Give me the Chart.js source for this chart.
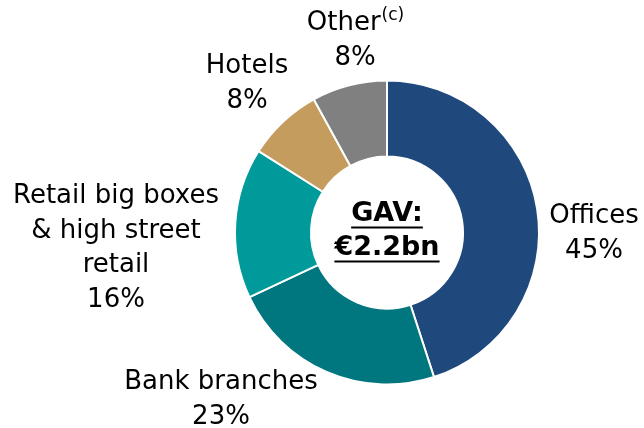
<!DOCTYPE html>
<html>
<head>
<meta charset="utf-8">
<script src="https://cdn.jsdelivr.net/npm/chart.js@4"></script>
<style>
html,body{margin:0;padding:0;background:#fff;}
#wrap{width:644px;height:428px;position:relative;}
</style>
</head>
<body>
<div id="wrap"><canvas id="c" width="644" height="428"></canvas></div>
<script>
// ---- data ----
const categories = ["Offices", "Bank branches", "Retail big boxes & high street retail", "Hotels", "Other"];
const shares = [45, 23, 16, 8, 8];
const labelLines = [["Offices"], ["Bank branches"], ["Retail big boxes", "& high street", "retail"], ["Hotels"], ["Other"]];
const labelSup = ["", "", "", "", "(c)"];
const centerLines = ["GAV:", "€2.2bn"];

// ---- styles ----
const colors = ["#1F497D", "#00767F", "#009A9A", "#C49C5E", "#808080"];
// label block offsets (first-line centre) relative to doughnut centre
const labelOffsets = [[207, -16], [-166, 150], [-271, -36], [-140, -166], [-32, -209]];
const FONT = "'DejaVu Sans', Verdana, sans-serif";
const LINE_H = 34.5;

const labelPlugin = {
  id: 'outLabels',
  afterDraw(chart) {
    const ctx = chart.ctx;
    const meta = chart.getDatasetMeta(0);
    const arc0 = meta.data[0];
    const cx = arc0.x, cy = arc0.y;
    ctx.save();
    ctx.fillStyle = '#000';
    ctx.textBaseline = 'middle';
    ctx.textAlign = 'center';
    meta.data.forEach((arc, i) => {
      const [dx, dy] = labelOffsets[i];
      const x = cx + dx;
      let y = cy + dy;
      const lines = labelLines[i].concat([shares[i] + '%']);
      lines.forEach((ln, j) => {
        ctx.font = "26px " + FONT;
        if (j === 0 && labelSup[i]) {
          const w1 = ctx.measureText(ln).width;
          ctx.font = "17px " + FONT;
          const w2 = ctx.measureText(labelSup[i]).width;
          const start = x - (w1 + w2) / 2;
          ctx.textAlign = 'left';
          ctx.font = "26px " + FONT;
          ctx.fillText(ln, start, y);
          ctx.font = "17px " + FONT;
          ctx.fillText(labelSup[i], start + w1 + 1, y - 8);
          ctx.textAlign = 'center';
        } else {
          ctx.fillText(ln, x, y);
        }
        y += LINE_H;
      });
    });
    // centre text
    ctx.font = "bold 27px " + FONT;
    ctx.lineWidth = 2;
    ctx.strokeStyle = '#000';
    const ys = [cy - 19, cy + 15];
    centerLines.forEach((t, j) => {
      ctx.fillText(t, cx, ys[j]);
      const w = ctx.measureText(t).width;
      ctx.beginPath();
      ctx.moveTo(cx - w / 2, ys[j] + 14);
      ctx.lineTo(cx + w / 2, ys[j] + 14);
      ctx.stroke();
    });
    ctx.restore();
  }
};

new Chart(document.getElementById('c'), {
  type: 'doughnut',
  data: {
    labels: categories,
    datasets: [{
      data: shares,
      backgroundColor: colors,
      borderColor: '#ffffff',
      borderWidth: 2
    }]
  },
  options: {
    responsive: false,
    animation: false,
    cutout: '50%',
    layout: { padding: { left: 234, right: 104, top: 79, bottom: 42 } },
    plugins: { legend: { display: false }, tooltip: { enabled: false } }
  },
  plugins: [labelPlugin]
});
</script>
</body>
</html>
